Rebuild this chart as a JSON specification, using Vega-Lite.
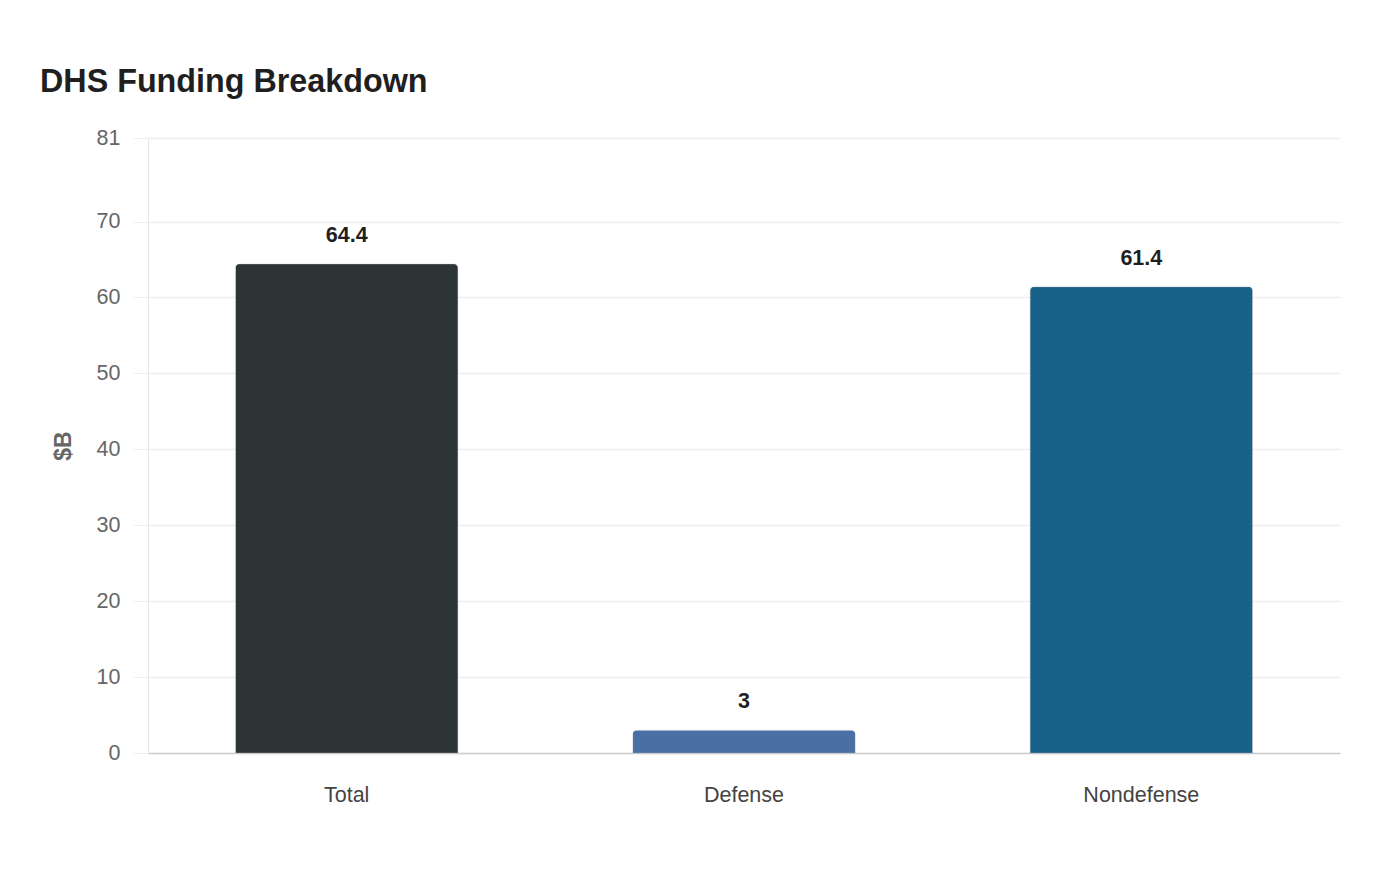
{
  "$schema": "https://vega.github.io/schema/vega-lite/v6.json",
  "autosize": {"type": "none"},
  "width": 1192,
  "height": 615,
  "padding": {"left": 148, "top": 138, "right": 60, "bottom": 127},
  "background": "white",
  "config": {
    "font": "Liberation Sans",
    "view": {"stroke": null}
  },
  "title": {
    "text": "DHS Funding Breakdown",
    "anchor": "start",
    "frame": "group",
    "dx": -108,
    "offset": 29,
    "fontSize": 32.3,
    "fontWeight": "bold",
    "color": "#1f1f1f"
  },
  "data": {
    "values": [
      {"category": "Total", "amount": 64.4},
      {"category": "Defense", "amount": 3},
      {"category": "Nondefense", "amount": 61.4}
    ]
  },
  "encoding": {
    "x": {
      "field": "category",
      "type": "nominal",
      "sort": null,
      "title": null,
      "scale": {"paddingInner": 0.44, "paddingOuter": 0.22},
      "axis": {
        "labelAngle": 0,
        "labelFontSize": 21.5,
        "labelColor": "#444444",
        "labelPadding": 31,
        "ticks": false,
        "domainColor": "#cccccc",
        "domainWidth": 1.5
      }
    },
    "y": {
      "field": "amount",
      "type": "quantitative",
      "title": "$B",
      "scale": {"domain": [0, 81], "nice": false},
      "axis": {
        "values": [0, 10, 20, 30, 40, 50, 60, 70, 81],
        "labelFontSize": 21.5,
        "labelColor": "#666666",
        "labelPadding": 13,
        "tickSize": 15,
        "tickColor": "#eeeeee",
        "gridColor": "#eeeeee",
        "gridWidth": 1.5,
        "domainColor": "#e6e6e6",
        "titleFontSize": 23,
        "titleFontWeight": "bold",
        "titleColor": "#666666",
        "titlePadding": 21
      }
    }
  },
  "layer": [
    {
      "mark": {"type": "bar", "cornerRadiusTopLeft": 4, "cornerRadiusTopRight": 4, "stroke": "#9aa0a6", "strokeWidth": 0.5, "strokeOpacity": 0.5},
      "encoding": {
        "color": {
          "field": "category",
          "type": "nominal",
          "legend": null,
          "scale": {
            "domain": ["Total", "Defense", "Nondefense"],
            "range": ["#2d3436", "#4a6fa5", "#186188"]
          }
        }
      }
    },
    {
      "mark": {"type": "text", "baseline": "alphabetic", "dy": -22, "fontSize": 21.5, "fontWeight": "bold", "color": "#1f1f1f"},
      "encoding": {
        "text": {"field": "amount", "type": "quantitative"}
      }
    }
  ]
}
